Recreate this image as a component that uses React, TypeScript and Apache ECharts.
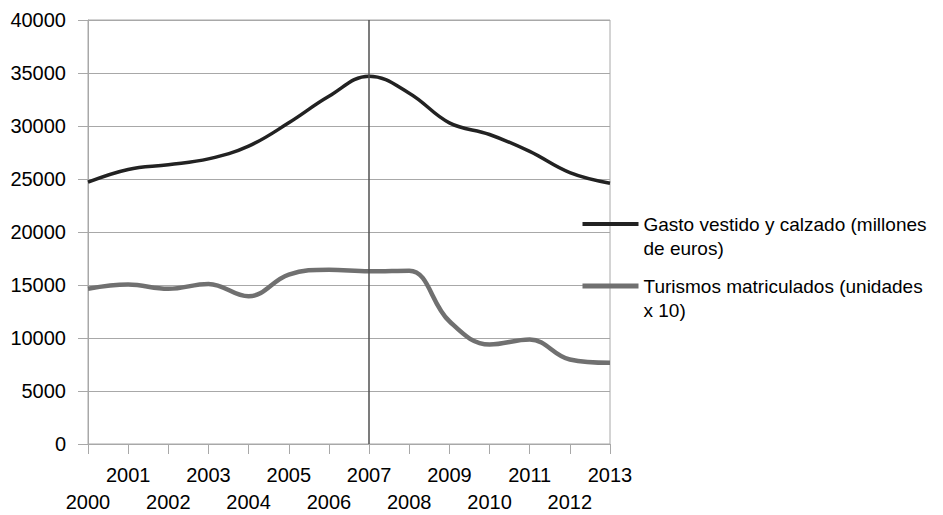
import React, { useEffect, useRef } from "react";
import * as echarts from "echarts";

const years = ["2000","2001","2002","2003","2004","2005","2006","2007","2008","2009","2010","2011","2012","2013"];
const gasto = [24700, 25900, 26350, 26900, 28100, 30300, 32800, 34700, 33100, 30300, 29200, 27600, 25600, 24600];
const turismos = [14640, 15040, 14640, 15100, 13940, 15980, 16450, 16300, 16350, 11580, 9390, 9860, 7970, 7660];
const yTicks = { min: 0, max: 40000, interval: 5000 };
const seriesNames = ["Gasto vestido y calzado (millones\nde euros)", "Turismos matriculados (unidades\nx 10)"];
const markYear = "2007";

export default function App() {
  const ref = useRef<HTMLDivElement>(null);
  useEffect(() => {
    const chart = echarts.init(ref.current!, null, { renderer: "svg" });
    const font = "'Liberation Sans', Arial, sans-serif";
    const colors = ["#222222", "#707070"];
    const widths = [3.5, 4.5];
    chart.setOption({
      animation: false,
      backgroundColor: "#ffffff",
      grid: { left: 88, top: 20, width: 522, height: 425, show: true, borderColor: "#a8a8a8", borderWidth: 1, containLabel: false },
      legend: {
        orient: "vertical",
        left: 575,
        top: 183,
        itemWidth: 56,
        itemHeight: 14,
        itemGap: -10,
        itemStyle: { opacity: 0 },
        formatter: (n: string) => "\n" + n,
        textStyle: { fontFamily: font, fontSize: 19, color: "#000", lineHeight: 24 },
        data: seriesNames.map((n, i) => ({ name: n, lineStyle: { width: widths[i] + 0.5, color: colors[i] } })),
      },
      xAxis: {
        type: "category",
        data: years,
        boundaryGap: false,
        axisLine: { lineStyle: { color: "#a8a8a8", width: 1 } },
        axisTick: { show: true, length: 10, interval: 0, lineStyle: { color: "#a8a8a8" } },
        axisLabel: {
          interval: 0,
          margin: 17,
          fontFamily: font,
          fontSize: 20,
          color: "#000",
          lineHeight: 27,
          formatter: (v: string, i: number) => (i % 2 === 0 ? "\n" + v : v),
        },
        splitLine: { show: false },
      },
      yAxis: {
        type: "value",
        min: yTicks.min,
        max: yTicks.max,
        interval: yTicks.interval,
        axisLine: { show: true, lineStyle: { color: "#a8a8a8" } },
        axisTick: { show: true, length: 10, lineStyle: { color: "#a8a8a8" } },
        axisLabel: { margin: 22, fontFamily: font, fontSize: 20, color: "#000", formatter: (v: number) => String(v) },
        splitLine: { show: true, lineStyle: { color: "#a8a8a8", width: 1 } },
      },
      series: [
        {
          name: seriesNames[0],
          type: "line",
          data: gasto,
          smooth: 0.4,
          symbol: "none",
          lineStyle: { color: colors[0], width: widths[0] },
          itemStyle: { color: colors[0] },
          markLine: {
            silent: true,
            symbol: "none",
            label: { show: false },
            lineStyle: { color: "#505050", width: 1.5, type: "solid" },
            data: [{ xAxis: markYear }],
          },
        },
        {
          name: seriesNames[1],
          type: "line",
          data: turismos,
          smooth: 0.4,
          symbol: "none",
          lineStyle: { color: colors[1], width: widths[1] },
          itemStyle: { color: colors[1] },
        },
      ],
    });
    return () => chart.dispose();
  }, []);
  return <div ref={ref} style={{ position: "fixed", left: 0, top: 0, width: 943, height: 515 }} />;
}
